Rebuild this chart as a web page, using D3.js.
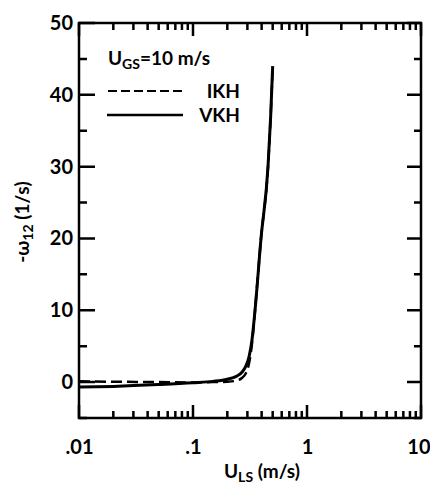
<!DOCTYPE html>
<html>
<head>
<meta charset="utf-8">
<script src="https://cdn.jsdelivr.net/npm/d3@7"></script>
<style>
  body { margin: 0; background: white; }
  text { font-family: Lato, "DejaVu Sans", sans-serif; font-weight: 700; fill: black; }
</style>
</head>
<body>
<div id="canvas"></div>
<script>
"use strict"

let svgWidth = 430
let svgHeight = 487

// data: x = U_LS (m/s), y = -omega_I2 (1/s)
let uLS = [0.01, 0.02, 0.05, 0.1, 0.15, 0.2, 0.24, 0.27, 0.29, 0.31, 0.33, 0.35, 0.395, 0.455, 0.48, 0.5]
let vkh = [-0.7, -0.6, -0.35, -0.1, 0.1, 0.4, 0.8, 1.4, 2.2, 3.5, 6, 10, 20, 30, 37, 44]
let ikh = [0.1, 0.05, 0, -0.05, 0, 0.05, 0.2, 0.6, 1.2, 2.6, 5.5, 10, 20, 30, 37, 44]

let xTicks = [0.01, 0.1, 1, 10]
let xTickLabels = [".01", ".1", "1", "10"]
let yTicks = [0, 10, 20, 30, 40, 50]
let minorY = [-5, 5, 15, 25, 35, 45]

let x = d3.scaleLog().domain([0.01, 10]).range([79, 421])
let y = d3.scaleLinear().domain([-5, 50]).range([418, 23])

let minorX = []
;[0.01, 0.1, 1].forEach(d => {
    for (let k = 2; k <= 9; k++) minorX.push(d * k)
})

let drawing = d3.select("#canvas")
    .append("svg")
    .attr("width", svgWidth)
    .attr("height", svgHeight)

let x0 = x(0.01), x1 = x(10), y0 = y(-5), y1 = y(50)

// inward tick marks on all four sides, as one path
let tp = d3.path()
xTicks.forEach(d => {
    tp.moveTo(x(d), y0); tp.lineTo(x(d), y0 - 13)
    tp.moveTo(x(d), y1); tp.lineTo(x(d), y1 + 13)
})
minorX.forEach(d => {
    tp.moveTo(x(d), y0); tp.lineTo(x(d), y0 - 7)
    tp.moveTo(x(d), y1); tp.lineTo(x(d), y1 + 7)
})
yTicks.forEach(d => {
    tp.moveTo(x0, y(d)); tp.lineTo(x0 + 16, y(d))
    tp.moveTo(x1, y(d)); tp.lineTo(x1 - 14, y(d))
})
minorY.forEach(d => {
    tp.moveTo(x0, y(d)); tp.lineTo(x0 + 8, y(d))
    tp.moveTo(x1, y(d)); tp.lineTo(x1 - 7, y(d))
})
drawing.append("path")
    .attr("d", tp.toString())
    .attr("fill", "none")
    .attr("stroke", "black")
    .attr("stroke-width", 2.5)

let frame = drawing.append("path")
    .attr("d", `M${x0},${y1}H${x1}V${y0}H${x0}Z`)
    .attr("fill", "none")
    .attr("stroke", "black")
    .attr("stroke-width", 2.5)

// tick labels through d3 axes
function labelAxis(axis, tx, ty) {
    let g = drawing.append("g")
        .attr("transform", `translate(${tx},${ty})`)
        .call(axis)
    g.select(".domain").remove()
    g.selectAll(".tick line").remove()
    g.selectAll(".tick text")
        .attr("font-size", 20)
        .attr("font-family", "Lato, 'DejaVu Sans', sans-serif")
        .attr("font-weight", 700)
    return g
}

let bottomAxis = labelAxis(d3.axisBottom(x).tickValues(xTicks).tickSize(0).tickPadding(22)
    .tickFormat((d, i) => xTickLabels[i]), 0, y0)
bottomAxis.selectAll(".tick text").filter(d => d == 10).attr("text-anchor", "end").attr("dx", 9)
labelAxis(d3.axisLeft(y).tickValues(yTicks).tickSize(0).tickPadding(6), x0, 0)

// axis titles
let xTitle = drawing.append("text")
    .attr("x", 262)
    .attr("y", 478)
    .attr("text-anchor", "middle")
    .attr("font-size", 19)
xTitle.append("tspan").text("U")
xTitle.append("tspan").attr("font-size", 14).attr("dy", 4).text("LS")
xTitle.append("tspan").attr("dy", -4).text(" (m/s)")

let yTitle = drawing.append("text")
    .attr("transform", "translate(29,222) rotate(-90)")
    .attr("text-anchor", "middle")
    .attr("font-size", 19)
yTitle.append("tspan").text("-ω")
yTitle.append("tspan").attr("font-size", 14).attr("dy", 4).text("12")
yTitle.append("tspan").attr("dy", -4).text(" (1/s)")

// curves
let line = d3.line()
    .x((d, i) => x(uLS[i]))
    .y(d => y(d))
    .curve(d3.curveMonotoneX)

drawing.append("path")
    .attr("d", line(ikh))
    .attr("fill", "none")
    .attr("stroke", "black")
    .attr("stroke-width", 2.5)
    .attr("stroke-dasharray", "11,5")

drawing.append("path")
    .attr("d", line(vkh))
    .attr("fill", "none")
    .attr("stroke", "black")
    .attr("stroke-width", 3)

// legend
let title = drawing.append("text")
    .attr("x", 108)
    .attr("y", 65)
    .attr("font-size", 19)
title.append("tspan").text("U")
title.append("tspan").attr("font-size", 14).attr("dy", 4).text("GS")
title.append("tspan").attr("dy", -4).text("=10 m/s")

drawing.append("line")
    .attr("x1", 108).attr("x2", 183)
    .attr("y1", 91).attr("y2", 91)
    .attr("stroke", "black")
    .attr("stroke-width", 2)
    .attr("stroke-dasharray", "9,4")
drawing.append("text")
    .attr("x", 240).attr("y", 98)
    .attr("text-anchor", "end")
    .attr("font-size", 19)
    .text("IKH")

drawing.append("line")
    .attr("x1", 107).attr("x2", 183)
    .attr("y1", 115).attr("y2", 115)
    .attr("stroke", "black")
    .attr("stroke-width", 2.5)
drawing.append("text")
    .attr("x", 240).attr("y", 122)
    .attr("text-anchor", "end")
    .attr("font-size", 19)
    .text("VKH")
</script>
</body>
</html>
